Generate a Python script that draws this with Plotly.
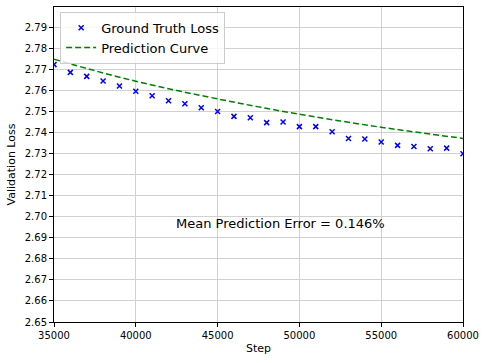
import plotly.graph_objects as go

STEPS = [35000, 36000, 37000, 38000, 39000, 40000, 41000, 42000, 43000, 44000,
         45000, 46000, 47000, 48000, 49000, 50000, 51000, 52000, 53000, 54000,
         55000, 56000, 57000, 58000, 59000, 60000]
GT_LOSS = [2.7724, 2.7687, 2.7668, 2.7646, 2.7622, 2.7597, 2.7576, 2.7552, 2.7538, 2.7519,
           2.7501, 2.7478, 2.7471, 2.7448, 2.7451, 2.7429, 2.7429, 2.7405, 2.7373, 2.7370,
           2.7356, 2.7340, 2.7335, 2.7324, 2.7327, 2.7300]

CURVE_STEPS = [35000, 37500, 40000, 42500, 45000, 47500, 50000, 52500, 55000, 57500, 60000]
CURVE_LOSS = [2.7750, 2.7695, 2.7645, 2.7601, 2.7561, 2.7523, 2.7488, 2.7456, 2.7426, 2.7399, 2.7373]

X_TICKS = [35000, 40000, 45000, 50000, 55000, 60000]
Y_TICKS = [round(2.65 + 0.01 * i, 2) for i in range(15)]

FONT = "DejaVu Sans"

fig = go.Figure()
fig.add_trace(go.Scatter(
    x=STEPS, y=GT_LOSS, mode="markers", name="Ground Truth Loss",
    marker=dict(symbol="x-thin", size=5, color="blue", line=dict(width=1.5, color="blue")),
))
fig.add_trace(go.Scatter(
    x=CURVE_STEPS, y=CURVE_LOSS, mode="lines", name="Prediction Curve",
    line=dict(color="green", width=1.5, dash="6px,3px", shape="spline"),
))

axis_common = dict(
    showline=True, linecolor="black", linewidth=1, mirror=True,
    showgrid=True, gridcolor="#d0d0d0", gridwidth=1, zeroline=False,
    ticks="outside", ticklen=4, tickcolor="black",
    tickfont=dict(family=FONT, size=10, color="black"),
)

fig.update_layout(
    width=488, height=363,
    margin=dict(l=54, r=25, t=7, b=41),
    paper_bgcolor="white", plot_bgcolor="white",
    font=dict(family=FONT, color="black"),
    xaxis=dict(range=[35000, 60000], tickvals=X_TICKS, tickformat="d",
               title=dict(text="Step", font=dict(family=FONT, size=11), standoff=4),
               **axis_common),
    yaxis=dict(range=[2.65, 2.7998], tickvals=Y_TICKS, tickformat=".2f",
               title=dict(text="Validation Loss", font=dict(family=FONT, size=11), standoff=6),
               **axis_common),
    legend=dict(x=0.015, y=0.985, xanchor="left", yanchor="top",
                bgcolor="rgba(255,255,255,0.8)", bordercolor="#cccccc", borderwidth=1,
                font=dict(family=FONT, size=13), tracegroupgap=0, itemwidth=30),
    showlegend=True,
    annotations=[dict(
        text="Mean Prediction Error = 0.146%", xref="paper", yref="paper",
        x=0.554, y=0.314, xanchor="center", yanchor="middle", showarrow=False,
        font=dict(family=FONT, size=13, color="black"),
    )],
)

fig.write_html("out.html", config=dict(displayModeBar=False),
               post_script="document.body.style.margin='0';")
